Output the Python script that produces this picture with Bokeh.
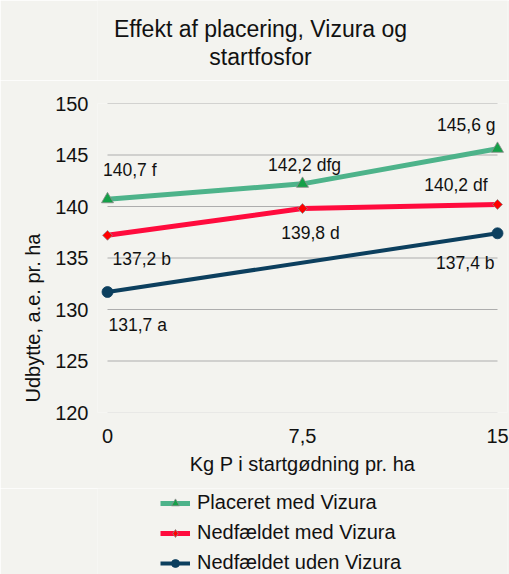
from math import pi
from bokeh.plotting import figure
from bokeh.layouts import column
from bokeh.models import (Range1d, FixedTicker, LabelSet, Label, ColumnDataSource,
                          Legend, LegendItem, Title)
from bokeh.core.properties import value
from bokeh.embed import file_html
from bokeh.resources import INLINE

# ---- data ----
x_vals = [0, 7.5, 15]
x_tick_labels = {0: "0", 7.5: "7,5", 15: "15"}
y_ticks = [120, 125, 130, 135, 140, 145, 150]

placeret_med = [140.7, 142.2, 145.6]
placeret_med_labels = ["140,7 f", "142,2 dfg", "145,6 g"]

nedfaeldet_med = [137.2, 139.8, 140.2]
nedfaeldet_med_labels = ["137,2 b", "139,8 d", "140,2 df"]

nedfaeldet_uden_x = [0, 15]
nedfaeldet_uden = [131.7, 137.4]
nedfaeldet_uden_labels = ["131,7 a", "137,4 b"]

title_lines = ["Effekt af placering, Vizura og", "startfosfor"]
x_label = "Kg P i startgødning pr. ha"
y_label = "Udbytte, a.e. pr. ha"
series_names = ["Placeret med Vizura", "Nedfældet med Vizura", "Nedfældet uden Vizura"]

# ---- styles / layout ----
BG = "#F3F3EF"
FONT = "Liberation Sans"
TXT = "#111111"
GREEN_LINE = "#4DB38A"
GREEN_MARK = "#14A048"
RED_LINE = "#FF0B3D"
RED_MARK = "#FF0000"
NAVY = "#0C3F5E"
MARK_EDGE = "#8A8A8A"
PX_X = 26.0           # px per x unit (for padding only)
W = 509
FL, FR = 97, 507      # frame left/right (page px)
H_TOP = 80            # title strip
H_MAIN = 408          # chart
H_LEG = 574 - H_TOP - H_MAIN
FT, FB = 103, 412     # frame top/bottom (page px)
TITLE_Y = [28, 56]    # title baselines in the title strip's coordinates

common = dict(output_backend="svg", toolbar_location=None, title=None,
              background_fill_color=BG, border_fill_color=BG, outline_line_color=None,
              min_border_left=FL, min_border_right=W - FR)

# ---- title strip ----
t = figure(width=W, height=H_TOP, x_range=Range1d(FL, FR), y_range=Range1d(H_TOP, 0),
           x_axis_location=None, y_axis_location=None,
           min_border_top=0, min_border_bottom=0, **common)
t.xgrid.visible = False
t.ygrid.visible = False
for txt, base in zip(title_lines, TITLE_Y):
    t.add_layout(Label(x=260, y=base, text=txt, text_align="center",
                       text_baseline="alphabetic", text_font=FONT,
                       text_font_size="23px", text_color=TXT))

# ---- main chart ----
p = figure(width=W, height=H_MAIN,
           x_range=Range1d(-10 / PX_X, 15 + 10 / PX_X), y_range=Range1d(120, 150),
           min_border_top=FT - H_TOP, min_border_bottom=H_TOP + H_MAIN - FB, **common)
p.xgrid.visible = False
p.ygrid.visible = False

# gridlines limited to the category span
grid_major = [v for v in y_ticks if v != y_ticks[0]]
p.segment(x0=[x_vals[0]] * len(grid_major), x1=[x_vals[-1]] * len(grid_major),
          y0=grid_major, y1=grid_major, line_color="#ADADAD", line_width=1)
p.segment(x0=[x_vals[0]], x1=[x_vals[-1]], y0=[y_ticks[0]], y1=[y_ticks[0]],
          line_color="#D9D9D9", line_width=1)

p.xaxis.ticker = FixedTicker(ticks=x_vals)
p.xaxis.major_label_overrides = x_tick_labels
p.yaxis.ticker = FixedTicker(ticks=y_ticks)
for ax in (p.xaxis[0], p.yaxis[0]):
    ax.axis_line_color = None
    ax.major_tick_line_color = None
    ax.minor_tick_line_color = None
    ax.major_tick_in = 0
    ax.major_tick_out = 0
    ax.major_label_text_font = FONT
    ax.major_label_text_font_size = "20px"
    ax.major_label_text_color = TXT
p.xaxis.major_label_standoff = 16
p.yaxis.major_label_standoff = 9
p.xaxis.axis_label = x_label
p.xaxis.axis_label_text_font = FONT
p.xaxis.axis_label_text_font_size = "20px"
p.xaxis.axis_label_text_font_style = "normal"
p.xaxis.axis_label_text_color = TXT
p.xaxis.axis_label_standoff = 7

p.add_layout(Title(text=y_label, align="left", offset=10, standoff=18,
                   vertical_align="bottom", text_font=FONT, text_font_size="20px",
                   text_font_style="normal", text_color=TXT), "left")

def series(fig, xs, ys, lc, lw, marker, msize, mfill, medge, angle=0.0):
    r1 = fig.line(xs, ys, line_color=lc, line_width=lw)
    r2 = fig.scatter(xs, ys, marker=marker, size=msize, angle=angle,
                     fill_color=mfill, line_color=medge, line_width=0.8)
    return [r1, r2]

def all_series(fig, red_marker, red_size, red_angle):
    return [series(fig, x_vals, placeret_med, GREEN_LINE, 5, "triangle", 12,
                   GREEN_MARK, MARK_EDGE),
            series(fig, x_vals, nedfaeldet_med, RED_LINE, 5, red_marker, red_size,
                   RED_MARK, MARK_EDGE, angle=red_angle),
            series(fig, nedfaeldet_uden_x, nedfaeldet_uden, NAVY, 4, "circle", 11,
                   NAVY, NAVY)]

all_series(p, "square", 7, pi / 4)

# data labels: offsets in screen px (positive dy = up)
def add_labels(xs, ys, texts, dxs, dys, aligns):
    src = ColumnDataSource(dict(x=xs, y=ys, text=texts, dx=dxs, dy=dys, align=aligns))
    p.add_layout(LabelSet(x="x", y="y", text="text", x_offset="dx", y_offset="dy",
                          text_align="align", text_baseline="middle", source=src,
                          text_font=value(FONT), text_font_size=value("17.5px"),
                          text_color=value(TXT)))

add_labels(x_vals, placeret_med, placeret_med_labels,
           [-4.5, 2, -2], [29, 19, 24], ["left", "center", "right"])
add_labels(x_vals, nedfaeldet_med, nedfaeldet_med_labels,
           [5, 8, -10], [-24, -24, 19], ["left", "center", "right"])
add_labels(nedfaeldet_uden_x, nedfaeldet_uden, nedfaeldet_uden_labels,
           [1, -3], [-33.5, -30], ["left", "right"])

# ---- legend strip: same series drawn out of view, legend shows their styles ----
q = figure(width=W, height=H_LEG, x_range=Range1d(1000, 1001), y_range=Range1d(1000, 1001),
           x_axis_location=None, y_axis_location=None,
           min_border_top=0, min_border_bottom=0, **common)
q.xgrid.visible = False
q.ygrid.visible = False
groups = all_series(q, "diamond", 13, 0.0)
legend = Legend(items=[LegendItem(label=n, renderers=g) for n, g in zip(series_names, groups)],
                location=(160 - FL, 0), orientation="vertical",
                glyph_width=30, glyph_height=20, label_height=20, label_width=10,
                label_standoff=7, spacing=7, padding=0, margin=0,
                label_text_font=FONT, label_text_font_size="20px", label_text_color=TXT,
                background_fill_alpha=0, border_line_alpha=0)
q.add_layout(legend)

layout = column(t, p, q, spacing=0)
open("out.html", "w").write(file_html(layout, INLINE))
